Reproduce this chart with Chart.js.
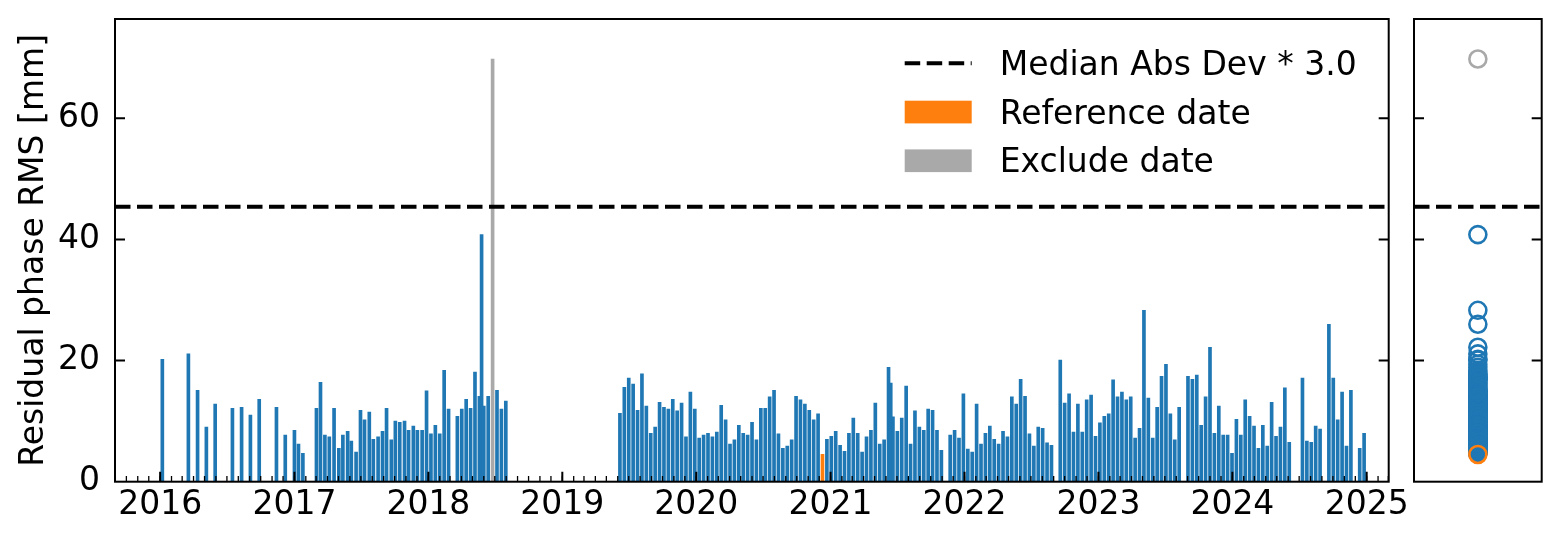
<!DOCTYPE html>
<html><head><meta charset="utf-8">
<script src="https://cdn.jsdelivr.net/npm/chart.js@4/dist/chart.umd.min.js"></script>
<style>
html,body{margin:0;padding:0;background:#fff;}
#wrap{position:relative;width:1562px;height:545px;overflow:hidden;}
.box{position:absolute;top:0;}
</style></head><body>
<div id="wrap">
  <div class="box" style="left:0;width:1562px;height:545px"><canvas id="main" width="1562" height="545"></canvas></div>
  <div class="box" style="left:1400px;width:162px;height:545px"><canvas id="side" width="162" height="545"></canvas></div>
</div>
<script>
// ---------------- data ----------------
const dates = [
 '2016-01-07','2016-03-18','2016-04-12','2016-05-06','2016-05-30','2016-07-16','2016-08-10','2016-09-03','2016-09-27','2016-11-13','2016-12-07',
 '2017-01-01','2017-01-12','2017-01-24','2017-03-02','2017-03-13','2017-03-25','2017-04-06','2017-04-19','2017-05-02','2017-05-13','2017-05-26',
 '2017-06-05','2017-06-18','2017-06-30','2017-07-11','2017-07-24','2017-08-04','2017-08-17','2017-08-29','2017-09-09','2017-09-22','2017-10-03',
 '2017-10-15','2017-10-28','2017-11-08','2017-11-21','2017-12-02','2017-12-15','2017-12-27',
 '2018-01-08','2018-01-20','2018-02-01','2018-02-13','2018-02-25','2018-03-21','2018-04-02','2018-04-14','2018-04-26','2018-05-08','2018-05-20',
 '2018-05-26','2018-06-01','2018-06-13','2018-06-25','2018-07-07','2018-07-19','2018-07-31',
 '2019-06-07','2019-06-19','2019-07-01','2019-07-13','2019-07-25','2019-08-06','2019-08-18','2019-08-30','2019-09-11','2019-09-23','2019-10-05',
 '2019-10-17','2019-10-29','2019-11-10','2019-11-22','2019-12-04','2019-12-16','2019-12-28',
 '2020-01-09','2020-01-21','2020-02-02','2020-02-14','2020-02-26','2020-03-09','2020-03-21','2020-04-02','2020-04-14','2020-04-26','2020-05-08',
 '2020-05-20','2020-06-01','2020-06-13','2020-06-25','2020-07-07','2020-07-19','2020-07-31','2020-08-12','2020-08-24','2020-09-05','2020-09-17',
 '2020-09-29','2020-10-11','2020-10-23','2020-11-04','2020-11-16','2020-11-28','2020-12-10','2020-12-22',
 '2021-01-03','2021-01-15','2021-01-27','2021-02-08','2021-02-20','2021-03-04','2021-03-16','2021-03-28','2021-04-09','2021-04-21','2021-05-03',
 '2021-05-15','2021-05-27','2021-06-08','2021-06-14','2021-06-20','2021-07-02','2021-07-14','2021-07-26','2021-08-07','2021-08-19','2021-08-31',
 '2021-09-12','2021-09-24','2021-10-06','2021-10-18','2021-10-30','2021-11-23','2021-12-05','2021-12-17','2021-12-29',
 '2022-01-10','2022-01-22','2022-02-03','2022-02-15','2022-02-27','2022-03-11','2022-03-23','2022-04-04','2022-04-16','2022-04-28','2022-05-10',
 '2022-05-22','2022-06-03','2022-06-15','2022-06-27','2022-07-09','2022-07-21','2022-08-02','2022-08-14','2022-08-26','2022-09-19','2022-10-01',
 '2022-10-13','2022-10-25','2022-11-06','2022-11-18','2022-11-30','2022-12-12','2022-12-24',
 '2023-01-05','2023-01-17','2023-01-29','2023-02-10','2023-02-22','2023-03-06','2023-03-18','2023-03-30','2023-04-11','2023-04-23','2023-05-05',
 '2023-05-17','2023-05-29','2023-06-10','2023-06-22','2023-07-04','2023-07-16','2023-07-28','2023-08-09','2023-09-02','2023-09-14','2023-09-26',
 '2023-10-08','2023-10-20','2023-11-01','2023-11-13','2023-11-25','2023-12-07','2023-12-19','2023-12-31',
 '2024-01-12','2024-01-24','2024-02-05','2024-02-17','2024-02-29','2024-03-12','2024-03-24','2024-04-05','2024-04-17','2024-04-29','2024-05-11',
 '2024-05-23','2024-06-04','2024-07-10','2024-07-22','2024-08-03','2024-08-15','2024-08-27','2024-09-20','2024-10-02','2024-10-14','2024-10-26',
 '2024-11-07','2024-11-19','2024-12-13','2024-12-25'
];
const rms = [
 20.2,21.1,15.1,9.0,12.8,12.1,12.3,11.0,13.6,12.3,7.7,
 8.5,6.2,4.7,12.1,16.4,7.7,7.4,12.1,5.5,7.7,8.3,
 6.7,4.9,11.8,10.2,11.5,7.0,7.4,8.3,12.1,6.9,10.0,
 9.8,10.0,8.5,9.2,8.5,8.5,15.0,
 7.9,9.3,7.9,18.4,12.0,10.8,12.0,13.6,12.1,18.1,14.1,
 40.8,12.5,14.1,69.8,15.1,12.0,13.3,
 11.3,15.6,17.1,16.1,11.8,17.8,12.5,8.0,9.0,13.1,12.3,
 12.0,13.6,11.7,13.0,7.4,14.8,12.0,
 7.2,7.7,8.0,7.4,8.2,12.6,10.2,6.2,6.9,9.3,8.0,
 7.7,9.8,6.9,12.1,12.1,14.0,15.1,7.9,5.5,5.9,6.9,
 14.1,13.5,12.8,11.8,10.2,11.2,4.5,7.0,
 7.5,8.3,6.0,5.0,8.0,10.5,8.0,4.9,7.4,8.5,13.0,
 6.2,6.9,18.9,16.3,10.7,8.3,10.5,15.8,6.2,11.7,9.0,
 8.5,12.0,11.8,8.5,5.2,7.7,8.5,7.2,14.5,
 5.4,4.9,12.8,6.2,8.0,9.2,7.0,6.2,8.3,7.4,14.0,
 12.8,16.9,14.1,7.9,5.9,9.0,8.8,6.4,6.0,20.1,13.0,
 14.5,8.2,12.8,8.2,13.5,14.3,7.5,
 9.7,10.8,11.2,16.8,14.0,14.8,13.5,14.0,7.2,8.8,28.3,
 13.8,7.2,12.3,17.4,19.4,11.2,6.9,12.3,17.4,16.9,17.6,
 9.3,14.0,22.2,8.0,12.5,7.7,7.7,4.7,
 10.3,7.7,13.5,10.8,9.2,5.5,9.3,5.9,13.1,7.5,9.0,
 15.5,6.5,17.1,6.7,6.5,9.2,8.7,26.0,17.1,10.2,14.8,
 5.9,15.1,5.5,8.0
];
const referenceDate = '2020-12-10';
const excludeDates = ['2018-06-25'];
const madThreshold = 45.4;              // Median Abs Dev * 3.0
const yTickValues = [0, 20, 40, 60];
const yearLabels = ['2016','2017','2018','2019','2020','2021','2022','2023','2024','2025'];
const legendLabels = ['Median Abs Dev * 3.0', 'Reference date', 'Exclude date'];
const yAxisTitle = 'Residual phase RMS [mm]';
const xStart = '2015-08-31', xEnd = '2025-03-02';
const yMax = 76.4;

// ---------------- helpers ----------------
const toDay = s => Date.UTC(+s.slice(0,4), +s.slice(5,7)-1, +s.slice(8,10)) / 864e5;
const BLUE = '#1f77b4', ORANGE = '#ff7f0e', GREY = '#a9a9a9';
const FONT = "'DejaVu Sans'";
const FS = 33;
Chart.defaults.font.family = FONT;
Chart.defaults.color = '#000';

const normalPts = [], refPts = [], exclPts = [];
dates.forEach((d, i) => {
  const p = {x: toDay(d), y: rms[i]};
  if (d === referenceDate) refPts.push(p);
  else if (excludeDates.includes(d)) exclPts.push(p);
  else normalPts.push(p);
});
const xMin = toDay(xStart), xMax = toDay(xEnd);

// month starts for minor ticks
const monthTicks = [];
{
  let y = 2015, m = 0;
  while (true) {
    const v = Date.UTC(y, m, 1) / 864e5;
    if (v > xMax) break;
    if (v >= xMin) monthTicks.push(v);
    m++; if (m === 12) { m = 0; y++; }
  }
}

function zeroPad(s) { s.paddingTop = 0; s.paddingBottom = 0; s.paddingLeft = 0; s.paddingRight = 0; }

function drawFrame(ctx, a) {
  ctx.save();
  ctx.strokeStyle = '#000';
  ctx.lineWidth = 2;
  ctx.strokeRect(a.left, a.top, a.right - a.left, a.bottom - a.top);
  ctx.restore();
}
function drawYTicks(ctx, a, yScale, values) {
  ctx.save();
  ctx.strokeStyle = '#000';
  ctx.lineWidth = 2;
  ctx.beginPath();
  values.forEach(v => {
    const py = yScale.getPixelForValue(v);
    if (py >= a.bottom - 0.5 || py <= a.top + 0.5) return;
    ctx.moveTo(a.left, py); ctx.lineTo(a.left + 10, py);
    ctx.moveTo(a.right, py); ctx.lineTo(a.right - 10, py);
  });
  ctx.stroke();
  ctx.restore();
}

const mainPlugin = {
  id: 'mainDecor',
  afterDraw(chart) {
    const {ctx, chartArea: a, scales} = chart;
    // minor monthly ticks
    ctx.save();
    ctx.strokeStyle = '#000';
    ctx.lineWidth = 1.3;
    ctx.beginPath();
    monthTicks.forEach(v => {
      const px = scales.x.getPixelForValue(v);
      ctx.moveTo(px, a.bottom); ctx.lineTo(px, a.bottom - 5.7);
    });
    ctx.stroke();
    ctx.lineWidth = 2;
    ctx.beginPath();
    scales.x.ticks.forEach(t => {
      const px = scales.x.getPixelForValue(t.value);
      ctx.moveTo(px, a.bottom); ctx.lineTo(px, a.bottom - 10);
    });
    ctx.stroke();
    ctx.restore();
    drawYTicks(ctx, a, scales.y, scales.y.ticks.map(t => t.value));
    drawFrame(ctx, a);
    // legend (upper right)
    const lx = a.right - 484, hw = 67, tx = lx + 95;
    const rows = [a.top + 44.3, a.top + 93, a.top + 141.7];
    ctx.save();
    ctx.strokeStyle = '#000';
    ctx.lineWidth = 4;
    ctx.setLineDash([15.5, 6.5]);
    ctx.beginPath();
    ctx.moveTo(lx, rows[0]); ctx.lineTo(lx + hw, rows[0]);
    ctx.stroke();
    ctx.setLineDash([]);
    ctx.fillStyle = ORANGE;
    ctx.fillRect(lx, rows[1] - 11.3, hw, 22.7);
    ctx.fillStyle = GREY;
    ctx.fillRect(lx, rows[2] - 11.3, hw, 22.7);
    ctx.fillStyle = '#000';
    ctx.font = FS + 'px ' + FONT;
    ctx.textAlign = 'left';
    ctx.textBaseline = 'alphabetic';
    legendLabels.forEach((s, i) => ctx.fillText(s, tx, rows[i] + 11.7));
    ctx.restore();
  }
};

new Chart(document.getElementById('main'), {
  type: 'bar',
  data: {
    datasets: [
      {type: 'line', data: [{x: xMin, y: madThreshold}, {x: xMax, y: madThreshold}],
       borderColor: '#000', borderWidth: 4, borderDash: [15.5, 6.5], pointRadius: 0, order: 0},
      {data: normalPts, backgroundColor: BLUE, order: 3},
      {data: refPts, backgroundColor: ORANGE, order: 2},
      {data: exclPts, backgroundColor: GREY, order: 1}
    ]
  },
  options: {
    responsive: false, animation: false, devicePixelRatio: 1,
    layout: {padding: {top: 19, right: 1562 - 1388.7, left: 0, bottom: 0}},
    plugins: {legend: {display: false}, tooltip: {enabled: false}},
    datasets: {bar: {grouped: false, barThickness: 3, borderWidth: 0}},
    scales: {
      x: {
        type: 'linear', min: xMin, max: xMax, offset: false,
        grid: {display: false, drawTicks: false}, border: {display: false},
        ticks: {font: {size: FS}, color: '#000', padding: 4, maxRotation: 0, autoSkip: false,
                callback: (v, i) => yearLabels[i]},
        afterBuildTicks: s => { s.ticks = yearLabels.map(y => ({value: toDay(y + '-01-01')})); },
        afterFit: s => { s.height = 545 - 481.7; zeroPad(s); }
      },
      y: {
        min: 0, max: yMax,
        grid: {display: false, drawTicks: false}, border: {display: false},
        ticks: {stepSize: 20, includeBounds: false, font: {size: FS}, color: '#000', padding: 15},
        title: {display: true, text: yAxisTitle, font: {size: FS}, color: '#000', padding: {top: 15, bottom: 0}},
        afterFit: s => { s.width = 115; zeroPad(s); }
      }
    }
  },
  plugins: [mainPlugin]
});

const sidePlugin = {
  id: 'sideDecor',
  afterDraw(chart) {
    const {ctx, chartArea: a, scales} = chart;
    drawYTicks(ctx, a, scales.y, yTickValues);
    drawFrame(ctx, a);
  }
};

const toSide = pts => pts.map(p => ({x: 0, y: p.y}));
new Chart(document.getElementById('side'), {
  type: 'scatter',
  data: {
    datasets: [
      {type: 'line', data: [{x: -1, y: madThreshold}, {x: 1, y: madThreshold}],
       borderColor: '#000', borderWidth: 4, borderDash: [15.5, 6.5], pointRadius: 0, order: 0},
      {data: toSide(normalPts), borderColor: BLUE, backgroundColor: 'rgba(0,0,0,0)', pointRadius: 8.5, borderWidth: 2.6, order: 3},
      {data: toSide(refPts), borderColor: ORANGE, backgroundColor: 'rgba(0,0,0,0)', pointRadius: 8.5, borderWidth: 2.6, order: 1},
      {data: toSide(exclPts), borderColor: GREY, backgroundColor: 'rgba(0,0,0,0)', pointRadius: 8.5, borderWidth: 2.6, order: 2}
    ]
  },
  options: {
    responsive: false, animation: false, devicePixelRatio: 1,
    layout: {padding: {top: 19, right: 20.3, left: 14, bottom: 63.3}},
    plugins: {legend: {display: false}, tooltip: {enabled: false}},
    scales: {
      x: {type: 'linear', min: -1, max: 1, display: false},
      y: {min: 0, max: yMax, display: false}
    }
  },
  plugins: [sidePlugin]
});
</script>
</body></html>
